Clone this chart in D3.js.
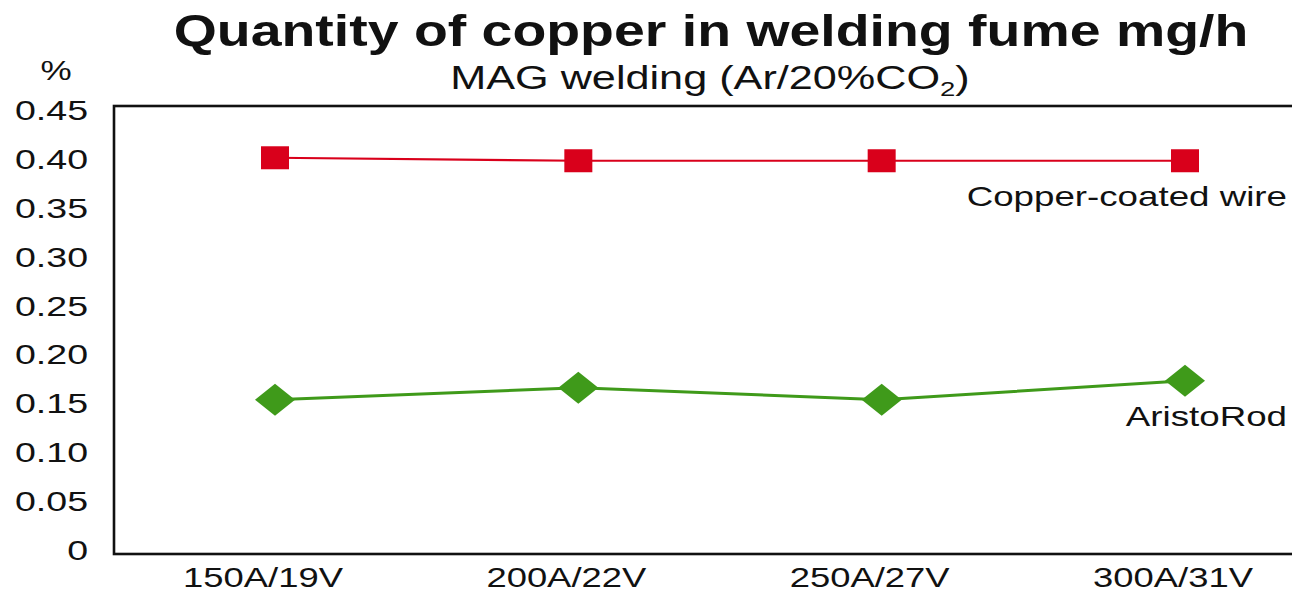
<!DOCTYPE html>
<html>
<head>
<meta charset="utf-8">
<script src="https://cdn.jsdelivr.net/npm/d3@7"></script>
<style>
  body { margin: 0; background: #fff; }
  text { font-family: "Liberation Sans", Arial, sans-serif; fill: #111; }
</style>
</head>
<body>
<div id="chart"></div>
<script>
var categories = ["150A/19V", "200A/22V", "250A/27V", "300A/31V"];
var copperWire = [0.398, 0.395, 0.395, 0.395];
var aristoRod = [0.155, 0.167, 0.155, 0.174];
var yTicks = [0, 0.05, 0.10, 0.15, 0.20, 0.25, 0.30, 0.35, 0.40, 0.45];

var W = 1292, H = 592;
var plot = { left: 114, top: 106, bottom: 554 };

var svg = d3.select("#chart").append("svg")
      .attr("width", W)
      .attr("height", H);

// the reference lettering is wide, so text is stretched sideways
function wideText(parent, px, py, sx, size, anchor) {
      return parent.append("text")
            .attr("transform", "translate(" + px + "," + py + ") scale(" + sx + ",1)")
            .attr("text-anchor", anchor)
            .style("font-size", size + "px");
}

var x = d3.scalePoint()
      .domain(categories)
      .range([275, 1185]);

var y = d3.scaleLinear()
      .domain([0, 0.45])
      .range([plot.bottom, plot.top]);

// tick labels sit a little inside the frame ends
var yLab = d3.scaleLinear()
      .domain([0, 0.45])
      .range([550, 110]);

// frame (right side runs off the picture)
svg.append("rect")
      .attr("x", plot.left)
      .attr("y", plot.top)
      .attr("width", W + 40 - plot.left)
      .attr("height", plot.bottom - plot.top)
      .attr("fill", "none")
      .attr("stroke", "#111")
      .attr("stroke-width", 2.6);

// y tick labels
var yg = svg.append("g");
yTicks.forEach(function (d) {
      wideText(yg, 88, yLab(d) + 10, 1.34, 28, "end")
            .text(d === 0 ? "0" : d.toFixed(2));
});

wideText(svg, 56, 80, 1.3, 27, "middle").text("%");

// x labels
var xg = svg.append("g");
categories.forEach(function (d) {
      wideText(xg, x(d) - 12, 587, 1.3, 28, "middle").text(d);
});

// titles
wideText(svg, 711, 46, 1.26, 44, "middle")
      .style("font-weight", "bold")
      .text("Quantity of copper in welding fume mg/h");

var sub = wideText(svg, 710, 89, 1.31, 33, "middle");
sub.append("tspan").text("MAG welding (Ar/20%CO");
sub.append("tspan").attr("dy", 7).style("font-size", "21px").text("2");
sub.append("tspan").attr("dy", -7).text(")");

var line = d3.line()
      .x(function (d, i) { return x(categories[i]); })
      .y(function (d) { return y(d); });

// copper-coated wire
svg.append("path")
      .datum(copperWire)
      .attr("d", line)
      .attr("fill", "none")
      .attr("stroke", "#d9001b")
      .attr("stroke-width", 2.2);

svg.append("g").selectAll("rect")
      .data(copperWire)
      .enter().append("rect")
      .attr("x", function (d, i) { return x(categories[i]) - 14; })
      .attr("y", function (d) { return y(d) - 11.5; })
      .attr("width", 28)
      .attr("height", 23)
      .attr("fill", "#d9001b");

// AristoRod
svg.append("path")
      .datum(aristoRod)
      .attr("d", line)
      .attr("fill", "none")
      .attr("stroke", "#3f9a1a")
      .attr("stroke-width", 3);

svg.append("g").selectAll("path.dia")
      .data(aristoRod)
      .enter().append("path")
      .attr("class", "dia")
      .attr("d", function (d, i) {
            var cx = x(categories[i]), cy = y(d);
            return "M" + (cx - 20) + "," + cy + "L" + cx + "," + (cy - 16) +
                  "L" + (cx + 20) + "," + cy + "L" + cx + "," + (cy + 16) + "Z";
      })
      .attr("fill", "#3f9a1a");

// series labels
wideText(svg, 1287, 206, 1.36, 27, "end").text("Copper-coated wire");
wideText(svg, 1287, 426, 1.36, 27, "end").text("AristoRod");
</script>
</body>
</html>
